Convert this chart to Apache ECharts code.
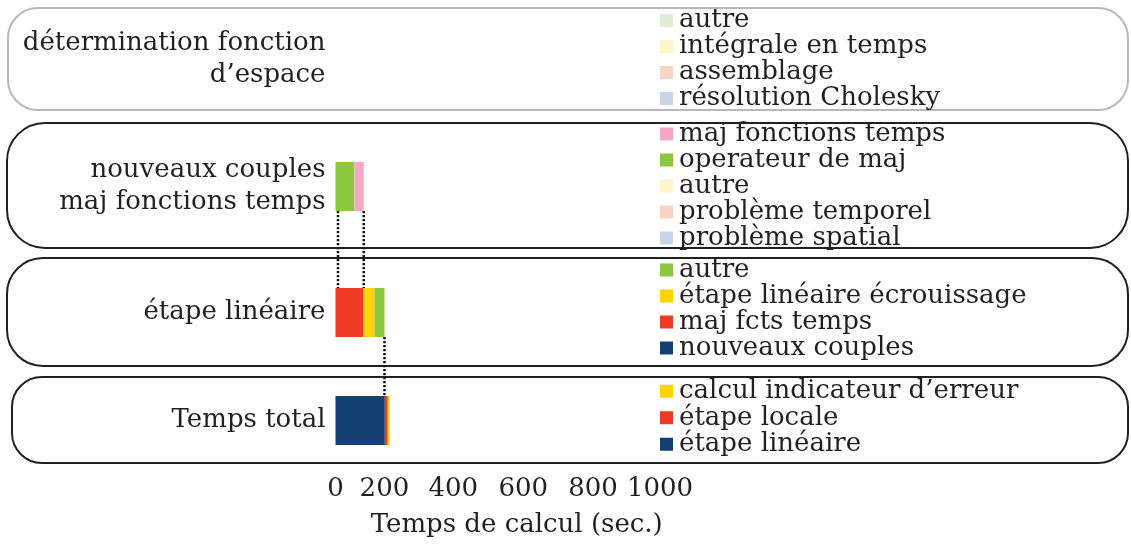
<!DOCTYPE html>
<html>
<head>
<meta charset="utf-8">
<script src="https://cdn.jsdelivr.net/npm/echarts@6/dist/echarts.min.js"></script>
<style>html,body{margin:0;padding:0;background:#fff}#c{width:1131px;height:544px}</style>
</head>
<body>
<div id="c"></div>
<script>
// ---- data ----
const categories = ['détermination fonction\nd’espace', 'nouveaux couples\nmaj fonctions temps', 'étape linéaire', 'Temps total'];
// series listed in stacking order (legend shows them reversed)
const row1Names = ['résolution Cholesky', 'assemblage', 'intégrale en temps', 'autre'];
const row1Values = [0, 0, 0, 0];
const row2Names = ['problème spatial', 'problème temporel', 'autre', 'operateur de maj', 'maj fonctions temps'];
const row2Values = [0, 0, 0, 58, 29];
const row3Names = ['nouveaux couples', 'maj fcts temps', 'étape linéaire écrouissage', 'autre'];
const row3Values = [0, 86, 34, 31];
const row4Names = ['étape linéaire', 'étape locale', 'calcul indicateur d’erreur'];
const row4Values = [152, 9, 6];
const xTicks = [0, 200, 400, 600, 800, 1000];
const xName = 'Temps de calcul (sec.)';

// ---- styles ----
const C = {
  dblue: '#143f73', red: '#ee3a24', yellow: '#ffd20a', green: '#8dc63f', pink: '#f4a8c3',
  lgreen: '#dcedd2', lyellow: '#fcf5cc', lsalmon: '#f9d2c6', lblue: '#c6d6e8'
};
const row1Colors = [C.lblue, C.lsalmon, C.lyellow, C.lgreen];
const row2Colors = [C.lblue, C.lsalmon, C.lyellow, C.green, C.pink];
const row3Colors = [C.dblue, C.red, C.yellow, C.green];
const row4Colors = [C.dblue, C.red, C.yellow];
const rows = [
  {names: row1Names, values: row1Values, colors: row1Colors},
  {names: row2Names, values: row2Values, colors: row2Colors},
  {names: row3Names, values: row3Values, colors: row3Colors},
  {names: row4Names, values: row4Values, colors: row4Colors}
];
const FONT = 'DejaVu Serif';
const TXT = '#231f20';
const FS = 26;
const BAR = 49;
const gridTops = [35, 162, 288, 396];
const legendTops = [7.5, 121, 257, 378];
const legendLH = [24.7, 25.8, 26, 26.5];
// tick-label nudges (label spacing in the original print is not strictly linear)
const labelShift = {0: 0, 200: -16, 400: -12, 600: -7, 800: -2, 1000: 0};
const boxes = [
  {x: 8, y: 8, w: 1120, h: 102, r: 30, c: '#b8b8b8'},
  {x: 7, y: 123, w: 1121, h: 125, r: 38, c: TXT},
  {x: 7, y: 258, w: 1121, h: 108, r: 36, c: TXT},
  {x: 12, y: 377, w: 1116, h: 86, r: 30, c: TXT}
];

const rich = {};
Object.keys(labelShift).forEach(k => {
  const s = labelShift[k];
  rich['t' + k] = {
    fontFamily: FONT, fontSize: FS, color: TXT,
    padding: s < 0 ? [0, -2 * s, 0, 0] : [0, 0, 0, 2 * s]
  };
});

const grids = [], xAxes = [], yAxes = [], series = [], legends = [];
rows.forEach((row, i) => {
  grids.push({left: 335.5, width: 324.5, top: gridTops[i], height: BAR, containLabel: false});
  const last = i === rows.length - 1;
  xAxes.push({
    gridIndex: i, type: 'value', min: xTicks[0], max: xTicks[xTicks.length - 1],
    interval: xTicks[1] - xTicks[0], show: last,
    axisLine: {show: false}, axisTick: {show: false}, splitLine: {show: false},
    axisLabel: {
      fontFamily: FONT, fontSize: FS, color: TXT, margin: 31,
      formatter: v => '{t' + v + '|' + v + '}', rich: rich
    },
    name: last ? xName : '', nameLocation: 'middle', nameGap: 67,
    nameTextStyle: {fontFamily: FONT, fontSize: FS, color: TXT, padding: [0, 0, 0, 38]}
  });
  yAxes.push({
    gridIndex: i, type: 'category', data: [categories[i]],
    axisLine: {show: false}, axisTick: {show: false}, splitLine: {show: false},
    axisLabel: {fontFamily: FONT, fontSize: FS, color: TXT, margin: 10, lineHeight: 32, align: 'right'}
  });
  row.names.forEach((n, j) => {
    series.push({
      type: 'bar', name: n + '#' + i, xAxisIndex: i, yAxisIndex: i, stack: 's' + i,
      barWidth: BAR, data: [row.values[j]], itemStyle: {color: row.colors[j]},
      silent: true, animation: false
    });
  });
  legends.push({
    orient: 'vertical', left: 660, top: legendTops[i], padding: 0, itemGap: 0,
    itemWidth: 13, itemHeight: 13, icon: 'rect', selectedMode: false,
    data: row.names.map((n, j) => ({name: n + '#' + i, itemStyle: {color: row.colors[j]}})).reverse(),
    formatter: n => n.split('#')[0],
    textStyle: {fontFamily: FONT, fontSize: FS, color: TXT, lineHeight: legendLH[i], padding: [0, 0, 0, 1]}
  });
});

const boxGraphics = boxes.map(b => ({
  type: 'rect', z: -10, silent: true,
  shape: {x: b.x, y: b.y, width: b.w, height: b.h, r: b.r},
  style: {fill: 'none', stroke: b.c, lineWidth: 2}
}));

const chart = echarts.init(document.getElementById('c'), null, {renderer: 'canvas'});
chart.setOption({
  animation: false,
  textStyle: {fontFamily: FONT},
  grid: grids, xAxis: xAxes, yAxis: yAxes, series: series, legend: legends,
  graphic: boxGraphics
});

// connector dotted lines derived from the data via the axes
(function () {
  const sum = a => a.reduce((s, v) => s + v, 0);
  const px = (gi, v) => chart.convertToPixel({xAxisIndex: gi}, v);
  const cy = gi => chart.convertToPixel({yAxisIndex: gi}, categories[gi]);
  const barTop = gi => cy(gi) - BAR / 2, barBot = gi => cy(gi) + BAR / 2;
  const dot = (x, y1, y2) => ({
    type: 'line', z: 10, silent: true,
    shape: {x1: x, y1: y1, x2: x, y2: y2},
    style: {stroke: '#111', lineWidth: 2.5, lineDash: [2.2, 1.8]}
  });
  const lines = [
    dot(px(1, 0) + 2.5, barBot(1), barTop(2)),
    dot(px(1, sum(row2Values)), barBot(1), barTop(2)),
    dot(px(2, sum(row3Values)), barBot(2), barTop(3))
  ];
  chart.setOption({graphic: boxGraphics.concat(lines)});
})();
</script>
</body>
</html>
